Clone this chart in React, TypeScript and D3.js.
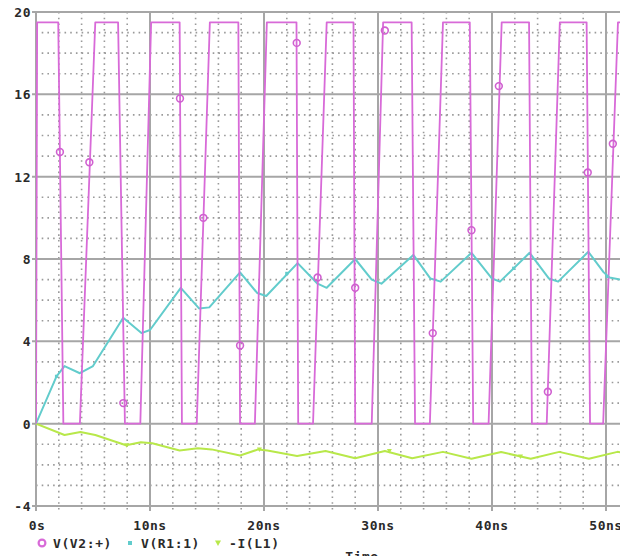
import * as d3 from 'd3'
import React from 'react'

// V(V2:+) pulse source, [time ns, volts]
const v2Points: [number, number][] = [
  [0, 0], [0.1, 19.5], [1.95, 19.5], [2.4, 0], [3.85, 0], [5.2, 19.5],
  [7.2, 19.5], [7.8, 0], [9.15, 0], [10.1, 19.5], [12.6, 19.5], [12.8, 0],
  [14.1, 0], [15.25, 19.5], [17.75, 19.5], [17.9, 0], [19.2, 0], [20.25, 19.5],
  [22.85, 19.5], [23.0, 0], [24.3, 0], [25.5, 19.5], [27.85, 19.5], [28.0, 0],
  [29.45, 0], [30.45, 19.5], [32.95, 19.5], [33.25, 0], [34.55, 0], [35.7, 19.5],
  [38.05, 19.5], [38.35, 0], [39.7, 0], [40.85, 19.5], [43.25, 19.5], [43.5, 0],
  [44.8, 0], [45.95, 19.5], [48.3, 19.5], [48.6, 0], [49.75, 0], [51.05, 19.5],
  [53, 19.5]
]
const v2Markers: [number, number][] = [
  [2.1, 13.2], [4.68, 12.7], [7.66, 1.0], [12.63, 15.8], [14.68, 10.0],
  [17.9, 3.8], [22.87, 18.5], [24.7, 7.1], [28.0, 6.6], [30.6, 19.1],
  [34.8, 4.4], [38.2, 9.4], [40.6, 16.4], [44.9, 1.55], [48.4, 12.2], [50.6, 13.6]
]

// V(R1:1)
const r1Points: [number, number][] = [
  [0, 0], [1.8, 2.3], [2.5, 2.8], [3.85, 2.45], [5.0, 2.8], [7.65, 5.15],
  [9.25, 4.4], [10.0, 4.55], [12.7, 6.6], [14.3, 5.6], [15.2, 5.65], [17.9, 7.35],
  [19.4, 6.35], [20.2, 6.2], [22.95, 7.8], [24.7, 6.8], [25.5, 6.6], [28.0, 8.0],
  [29.45, 7.0], [30.3, 6.8], [33.1, 8.2], [34.6, 7.05], [35.5, 6.9], [38.2, 8.3],
  [40.0, 7.05], [40.7, 6.9], [43.3, 8.3], [45.0, 7.05], [45.8, 6.9], [48.45, 8.35],
  [49.8, 7.35], [50.3, 7.1], [51.3, 7.0], [53, 7.6]
]
const r1Markers: [number, number][] = [[1.8, 2.3], [22.0, 7.3], [41.9, 7.55], [50.1, 7.15]]

// -I(L1)
const l1Points: [number, number][] = [
  [0, 0], [2.5, -0.55], [3.9, -0.4], [5.2, -0.55], [7.9, -1.05], [9.2, -0.9],
  [10.2, -0.95], [12.6, -1.3], [14.2, -1.2], [15.4, -1.25], [17.9, -1.55],
  [19.5, -1.25], [20.3, -1.3], [22.9, -1.57], [25.4, -1.33], [28.0, -1.68],
  [30.6, -1.33], [33.0, -1.68], [35.7, -1.37], [38.2, -1.7], [40.8, -1.38],
  [43.4, -1.7], [45.9, -1.37], [48.5, -1.7], [51.0, -1.37], [53, -1.5]
]
const l1Markers: [number, number][] = [[7.95, -1.05], [19.6, -1.25], [31.0, -1.33], [42.5, -1.6]]

const yTicks = [-4, 0, 4, 8, 12, 16, 20]
const xTicks = [0, 10, 20, 30, 40, 50]
const xTickLabels = ['0s', '10ns', '20ns', '30ns', '40ns', '50ns']
const legendItems = [
  { label: 'V(V2:+)', color: '#d86ad8', shape: 'circle' },
  { label: 'V(R1:1)', color: '#62cccc', shape: 'diamond' },
  { label: '-I(L1)', color: '#b8e84a', shape: 'triangle' }
]

const W = 620
const H = 556
const FONT = '"DejaVu Sans Mono", monospace'

export default function App() {
  const x = d3.scaleLinear().domain([0, 52]).range([36, 36 + 52 * 11.4])
  const y = d3.scaleLinear().domain([-4, 20]).range([506, 12])
  const line = d3
    .line<[number, number]>()
    .x((d) => x(d[0]))
    .y((d) => y(d[1]))

  const minorY = d3.range(-4, 20.01, 1).filter((v) => v % 4 !== 0)
  const minorX = d3.range(0, 52.01, 2).filter((v) => v % 10 !== 0)
  const x0 = x(0)
  const xEnd = W + 10

  return (
    <svg
      width={W}
      height={H}
      style={{ position: 'absolute', left: 0, top: 0, background: '#fff' }}
    >
      <defs>
        <clipPath id='plot'>
          <rect x={x0} y={y(20) - 4} width={xEnd} height={y(-4) - y(20) + 8} />
        </clipPath>
      </defs>

      {/* minor dotted grid */}
      <g stroke='#9a9a9a' strokeWidth={1.6} strokeDasharray='1.6 4.1'>
        {minorY.map((v) => (
          <line key={'my' + v} x1={x0} x2={xEnd} y1={y(v)} y2={y(v)} />
        ))}
        {minorX.map((v) => (
          <line key={'mx' + v} x1={x(v)} x2={x(v)} y1={y(20)} y2={y(-4) + 5} />
        ))}
      </g>

      {/* major grid */}
      <g stroke='#a6a6a6' strokeWidth={2}>
        {yTicks.map((v) => (
          <line key={'y' + v} x1={x0 - 4} x2={xEnd} y1={y(v)} y2={y(v)} />
        ))}
        {xTicks.map((v) => (
          <line key={'x' + v} x1={x(v)} x2={x(v)} y1={y(20)} y2={y(-4) + 5} />
        ))}
      </g>

      {/* traces */}
      <g clipPath='url(#plot)' fill='none' strokeLinejoin='round'>
        <path d={line(l1Points) || ''} stroke='#b8e84a' strokeWidth={2} />
        <path d={line(r1Points) || ''} stroke='#62cccc' strokeWidth={2} />
        <path d={line(v2Points) || ''} stroke='#d86ad8' strokeWidth={1.8} />
        {v2Markers.map((d, i) => (
          <circle key={'vm' + i} cx={x(d[0])} cy={y(d[1])} r={3.4} stroke='#d060d0' strokeWidth={1.6} fill='none' />
        ))}
        {r1Markers.map((d, i) => (
          <rect key={'rm' + i} x={x(d[0]) - 1.6} y={y(d[1]) - 1.6} width={3.2} height={3.2} fill='#62cccc' />
        ))}
        {l1Markers.map((d, i) => (
          <path
            key={'lm' + i}
            d={`M${x(d[0]) - 2.5},${y(d[1]) - 2} L${x(d[0]) + 2.5},${y(d[1]) - 2} L${x(d[0])},${y(d[1]) + 2.5} Z`}
            fill='#b8e84a'
          />
        ))}
      </g>

      {/* y labels */}
      <g fontFamily={FONT} fontWeight='bold' fontSize={13} fill='#2a2a2a' textAnchor='end'>
        {yTicks.map((v) => (
          <text key={'yl' + v} x={31} y={y(v) + 5} letterSpacing={0.5}>
            {v}
          </text>
        ))}
      </g>

      {/* x labels */}
      <g fontFamily={FONT} fontWeight='bold' fontSize={13} fill='#2a2a2a' textAnchor='middle'>
        {xTicks.map((v, i) => (
          <text key={'xl' + v} x={i === 0 ? x(v) + 1 : x(v)} y={530} letterSpacing={0.5}>
            {xTickLabels[i]}
          </text>
        ))}
      </g>

      {/* legend */}
      <g fontFamily={FONT} fontWeight='bold' fontSize={13} fill='#2a2a2a'>
        {legendItems.map((item, i) => {
          const lx = [42, 130, 218][i]
          const cy = 543
          return (
            <g key={item.label}>
              {item.shape === 'circle' && (
                <circle cx={lx} cy={cy} r={3.4} fill='none' stroke={item.color} strokeWidth={2.2} />
              )}
              {item.shape === 'diamond' && (
                <rect x={lx - 2} y={cy - 2} width={4} height={4} fill={item.color} />
              )}
              {item.shape === 'triangle' && (
                <path d={`M${lx - 3},${cy - 2.5} L${lx + 3},${cy - 2.5} L${lx},${cy + 3} Z`} fill={item.color} />
              )}
              <text x={lx + 11} y={cy + 5} letterSpacing={0.6}>
                {item.label}
              </text>
            </g>
          )
        })}
        <text x={362} y={561} textAnchor='middle' letterSpacing={0.5}>
          Time
        </text>
      </g>
    </svg>
  )
}
